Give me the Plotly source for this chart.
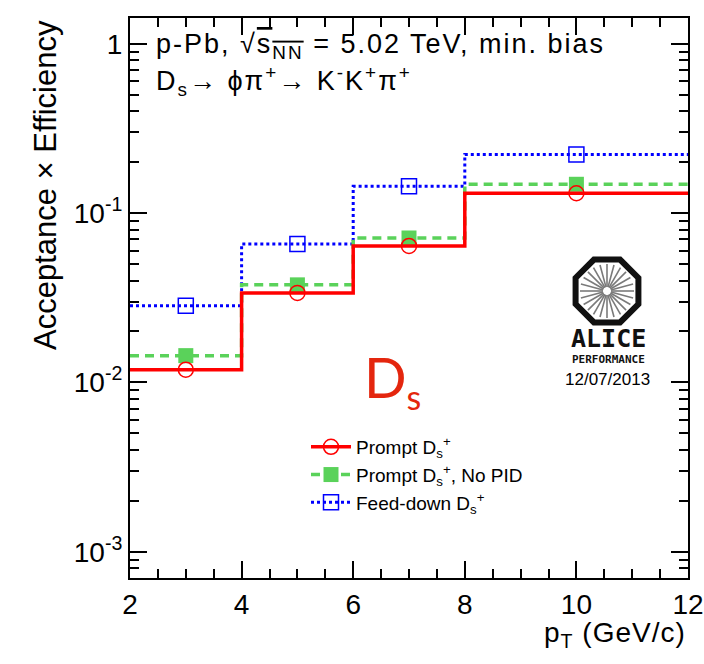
import math
import plotly.graph_objects as go

# ---- data ----
bin_edges = [2, 4, 6, 8, 12]
bin_centers = [3, 5, 7, 10]
prompt = [0.0119, 0.0338, 0.0640, 0.131]
prompt_nopid = [0.0144, 0.0377, 0.0713, 0.148]
feeddown = [0.0284, 0.0657, 0.144, 0.222]

y_tickvals = [1e-3, 1e-2, 1e-1, 1]
y_ticktext = ["10<sup>-3</sup>", "10<sup>-2</sup>", "10<sup>-1</sup>", "1"]
x_tickvals = [2, 4, 6, 8, 10, 12]

W, H = 704, 664
L, R, T, B = 130, 16, 18, 86
PW, PH = W - L - R, H - T - B


def px(x):
    return (x - L) / PW


def py(y):
    return (H - B - y) / PH


FONT = "Liberation Sans, Arial, Helvetica, sans-serif"

series = [
    ("Prompt D<sub>s</sub><sup>+</sup>", prompt, dict(color="#ff0000", width=3.5, dash="solid"),
     dict(symbol="circle-open", size=15, color="#ff0000", line=dict(width=1.5, color="#ff0000"))),
    ("Prompt D<sub>s</sub><sup>+</sup>, No PID", prompt_nopid, dict(color="#5ad25a", width=3.5, dash="9px,6px"),
     dict(symbol="square", size=15, color="#5ad25a", line=dict(width=0))),
    ("Feed-down D<sub>s</sub><sup>+</sup>", feeddown, dict(color="#0000ff", width=3, dash="3px,3px"),
     dict(symbol="square-open", size=15, color="#0000ff", line=dict(width=1.5, color="#0000ff"))),
]

fig = go.Figure()
# draw order: blue, green, red (red on top)
for name, vals, line, marker in reversed(series):
    fig.add_trace(go.Scatter(x=bin_edges, y=vals + [vals[-1]], mode="lines", line_shape="hv",
                             line=line, showlegend=False, hoverinfo="skip"))
    fig.add_trace(go.Scatter(x=bin_centers, y=vals, mode="markers", marker=marker, showlegend=False))
for name, vals, line, marker in series:
    fig.add_trace(go.Scatter(x=[None], y=[None], mode="lines+markers", line=line, marker=marker, name=name))

axis_common = dict(showline=True, linecolor="black", linewidth=2, mirror="allticks", ticks="inside",
                   tickcolor="black", tickwidth=1.5, ticklen=17, showgrid=False, zeroline=False,
                   automargin=False,
                   tickfont=dict(family=FONT, size=28, color="black"))

fig.update_xaxes(range=[2, 12], tickmode="array", tickvals=x_tickvals,
                 minor=dict(ticks="inside", ticklen=9, dtick=0.5, tickcolor="black", tickwidth=1.5, showgrid=False),
                 **axis_common)
fig.update_yaxes(type="log", range=[math.log10(7e-4), math.log10(1.42)], tickmode="array",
                 tickvals=y_tickvals, ticktext=y_ticktext,
                 minor=dict(ticks="inside", ticklen=9, dtick="D1", tickcolor="black", tickwidth=1.5, showgrid=False),
                 **axis_common)

ann = []
ann.append(dict(text="<span style='letter-spacing:2px'>p-Pb, √<span style='text-decoration:overline'>s<sub>NN</sub></span> = 5.02 TeV, min. bias</span>",
                x=px(154), y=py(46), xanchor="left", yanchor="middle", font=dict(size=27)))
ann.append(dict(text="<span style='letter-spacing:2px'>D<sub>s</sub>→ ϕπ<sup>+</sup>→ K<sup>-</sup>K<sup>+</sup>π<sup>+</sup></span>",
                x=px(154), y=py(81), xanchor="left", yanchor="middle", font=dict(size=27)))
ann.append(dict(text="D<sub><span style='font-size:34px'>s</span></sub>", x=px(362), y=py(380),
                xanchor="left", yanchor="middle",
                font=dict(size=56, color="#e4260e", family="Lato, Open Sans, sans-serif")))
ann.append(dict(text="Acceptance × Efficiency", textangle=-90, x=px(45), y=1.0,
                xanchor="center", yanchor="top", font=dict(size=31)))
ann.append(dict(text="<span style='letter-spacing:1px'>p<sub>T</sub> (GeV/c)</span>", x=1.0, y=py(634),
                xanchor="right", yanchor="middle", font=dict(size=28)))
# ALICE logo text
ann.append(dict(text="<b>ALICE</b>", x=px(608), y=py(338), xanchor="center", yanchor="middle",
                font=dict(size=25, family="DejaVu Sans Mono, monospace", color="#111")))
ann.append(dict(text="<b>PERFORMANCE</b>", x=px(608), y=py(359), xanchor="center", yanchor="middle",
                font=dict(size=11, family="DejaVu Sans Mono, monospace", color="#111")))
ann.append(dict(text="12/07/2013", x=px(607), y=py(380), xanchor="center", yanchor="middle",
                font=dict(size=17)))
for a in ann:
    a.setdefault("showarrow", False)
    a["xref"] = "paper"
    a["yref"] = "paper"
    f = a.setdefault("font", {})
    f.setdefault("family", FONT)
    f.setdefault("color", "black")

shapes = []
cx, cy, Rr = 607, 291, 34
pts = []
for k in range(8):
    a = math.radians(22.5 + 45 * k)
    pts.append((px(cx + Rr * math.cos(a)), py(cy + Rr * math.sin(a))))
path = "M " + " L ".join(f"{x:.5f},{y:.5f}" for x, y in pts) + " Z"
shapes.append(dict(type="path", path=path, xref="paper", yref="paper",
                   line=dict(color="#111", width=6), fillcolor="white"))
for k in range(24):
    a = math.radians(7.5 * 2 * k)
    r0, r1 = 4, 27
    shapes.append(dict(type="line", xref="paper", yref="paper",
                       x0=px(cx + r0 * math.cos(a)), y0=py(cy + r0 * math.sin(a)),
                       x1=px(cx + r1 * math.cos(a)), y1=py(cy + r1 * math.sin(a)),
                       line=dict(color="#7a7a7a", width=1.6)))

fig.update_layout(
    width=W, height=H, margin=dict(l=L, r=R, t=T, b=B, autoexpand=False),
    paper_bgcolor="white", plot_bgcolor="white",
    font=dict(family=FONT, color="black"),
    annotations=ann, shapes=shapes,
    legend=dict(x=px(306), y=py(428), xanchor="left", yanchor="top", bgcolor="rgba(0,0,0,0)",
                font=dict(size=19, family=FONT), itemwidth=40, tracegroupgap=0),
)

fig.write_html("out.html")
